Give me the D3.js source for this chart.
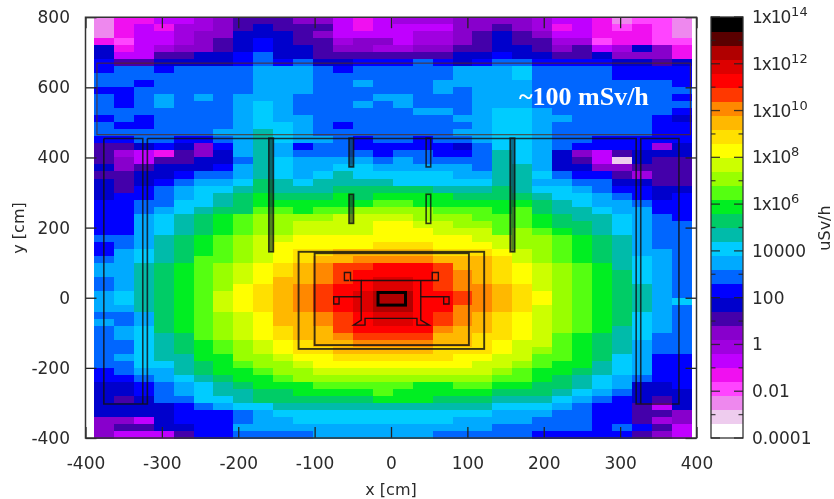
<!DOCTYPE html>
<meta charset="utf-8">
<style>
html, body { margin: 0; background: #fff; }
svg { display: block; filter: blur(0.45px); }
text { font-family: "DejaVu Sans", sans-serif; fill: #2a2a2a; }
.axis path { display: none; }
.axis line { stroke: #222; stroke-width: 1.3px; }
.axis text { font-size: 17px; fill: #2a2a2a; font-family: "DejaVu Sans", sans-serif; }
.geo { fill: none; stroke: #111; stroke-opacity: 0.82; }
</style>
<svg width="834" height="499"></svg>
<script src="https://cdnjs.cloudflare.com/ajax/libs/d3/7.8.5/d3.min.js"></script>
<script>
// colour bands of the dose scale, low to high (30 bands over 18 decades)
var palette = ["#ffffff","#eeccee","#ee88ee","#ff44ff","#f010f0","#c000ff","#a000e0","#8800cc","#4400aa","#0000cc",
  "#0000ff","#0066ff","#00aaff","#00ccff","#00bbaa","#00cc66","#00ee22","#55ff11","#99ff00","#ccff00",
  "#ffff00","#ffe000","#ffb800","#ff8800","#ff3800","#ff0000","#dd0000","#b00000","#5a0000","#000000"];

// dose map: 60 rows top to bottom, 30 columns left to right
var doseRows = [
[2,4,4,5,5,6,7,8,8,8,7,7,5,4,5,6,6,6,7,7,7,7,6,5,5,4,2,3,3,2],
[2,4,5,4,6,6,7,8,9,8,8,8,5,4,5,5,5,5,7,7,8,7,6,4,5,4,3,4,3,2],
[2,4,5,5,6,7,7,9,9,9,8,7,5,5,5,5,6,6,7,8,9,8,7,5,5,4,4,4,3,2],
[4,3,5,5,6,7,8,9,10,9,8,8,6,7,7,5,6,6,7,8,9,8,8,6,6,3,4,4,3,3],
[9,4,5,6,7,7,8,9,10,9,9,8,7,7,6,6,7,7,8,8,9,9,8,7,8,5,6,9,7,4],
[9,5,5,8,8,9,9,10,11,9,9,8,8,8,8,8,8,8,9,9,10,9,9,8,8,9,7,7,7,4],
[10,8,8,9,9,9,9,10,11,10,11,9,9,10,10,10,11,10,9,10,11,11,10,10,10,10,9,9,8,9],
[10,11,11,10,11,11,11,11,12,12,12,11,10,11,11,11,11,11,12,12,12,13,11,11,11,11,10,10,10,10],
[11,11,11,11,11,11,11,11,12,12,12,11,11,11,11,11,11,11,12,12,12,13,11,11,11,11,10,10,10,10],
[11,11,10,11,11,11,11,11,12,12,12,11,11,12,11,11,11,12,12,12,12,12,11,11,11,11,11,11,11,10],
[10,10,11,11,11,11,11,11,12,12,12,11,11,11,11,11,11,12,11,12,12,12,11,11,11,11,11,11,11,11],
[11,10,11,12,11,12,11,12,12,12,11,11,11,11,12,12,11,11,11,12,12,12,11,11,11,11,11,11,11,10],
[11,10,11,12,11,11,11,12,13,12,11,11,11,12,11,12,11,11,11,12,12,12,11,11,11,11,11,11,11,11],
[11,11,11,11,11,11,11,12,13,12,11,11,11,11,11,11,12,12,11,12,13,13,12,11,11,11,11,11,11,10],
[10,11,10,11,11,11,11,12,13,12,12,11,11,11,11,11,11,11,12,12,13,13,12,12,11,11,11,11,10,9],
[11,10,10,11,11,11,11,12,13,13,12,11,10,11,11,11,11,11,11,12,13,13,12,11,11,11,11,11,10,10],
[11,11,11,11,11,11,12,12,14,13,12,11,11,11,11,11,11,11,12,12,13,13,12,11,11,11,11,11,10,10],
[10,10,11,11,10,10,11,12,14,13,12,12,11,10,11,11,10,11,11,12,13,13,12,11,11,10,10,10,10,10],
[8,8,9,10,9,7,10,12,14,12,10,11,11,10,10,10,10,10,9,11,13,13,12,11,10,10,10,10,6,9],
[8,6,5,4,8,7,9,12,14,12,11,11,11,11,10,11,11,10,10,11,14,13,12,9,7,5,8,9,9,9],
[8,7,5,8,8,9,9,11,14,13,12,12,12,12,11,12,11,11,11,11,14,13,12,9,8,5,1,9,8,8],
[9,7,8,9,9,9,10,12,14,13,12,12,13,13,12,12,12,12,12,11,14,14,12,9,9,7,7,8,8,8],
[8,8,9,9,10,11,11,12,14,13,12,13,14,13,13,13,13,13,12,12,14,14,13,11,10,10,8,6,8,8],
[9,8,9,10,11,12,12,13,15,14,13,14,14,14,14,13,13,13,13,13,14,14,12,12,11,11,9,9,8,8],
[9,8,10,11,12,13,13,14,15,14,14,14,15,15,15,15,15,14,14,14,15,14,13,13,12,11,10,10,9,9],
[9,10,10,11,12,13,14,15,16,15,15,15,16,15,16,16,16,16,15,15,15,15,14,13,13,12,11,10,9,10],
[10,10,11,11,13,13,14,15,16,16,16,16,16,16,17,17,16,16,16,16,16,16,15,14,13,12,12,11,10,10],
[10,10,11,12,13,14,15,15,17,17,16,17,17,18,18,18,18,17,17,17,16,17,15,14,14,13,12,12,10,10],
[10,10,12,13,14,15,16,17,18,18,18,18,19,19,19,19,18,18,18,17,17,17,16,15,14,14,13,12,11,10],
[10,10,12,13,14,15,16,17,18,18,19,19,19,19,20,20,19,19,18,18,17,17,16,15,15,14,13,12,11,11],
[10,10,12,13,14,15,16,17,18,18,19,19,19,19,20,20,20,19,19,19,17,18,17,16,15,14,13,12,11,11],
[11,11,12,14,15,16,17,18,19,19,20,20,20,20,20,20,20,20,20,19,19,18,18,17,16,15,14,12,11,11],
[10,11,12,14,15,16,17,18,19,20,20,20,20,20,21,21,21,20,20,20,19,18,18,17,16,15,14,12,11,11],
[10,12,13,14,15,16,17,18,19,20,21,21,22,22,22,22,22,21,21,21,20,19,18,17,16,15,14,12,12,11],
[11,12,13,14,15,17,17,18,19,20,21,22,22,23,23,23,23,22,22,22,21,19,18,17,16,15,14,13,12,11],
[12,12,14,15,16,17,18,19,20,21,22,23,24,24,25,25,25,24,22,22,21,20,19,18,17,16,14,13,12,11],
[12,12,14,15,16,17,18,19,20,21,22,23,24,25,25,25,25,24,23,22,21,20,19,18,17,16,15,13,12,11],
[11,12,14,15,16,17,18,19,20,22,22,23,24,25,26,26,25,24,23,22,21,20,19,18,17,16,15,13,12,11],
[11,12,14,15,16,17,18,20,21,22,23,24,25,25,26,26,25,24,23,23,22,21,19,18,17,16,15,14,12,11],
[12,13,14,15,16,17,19,20,21,22,23,24,25,26,27,27,25,25,24,23,22,21,20,18,17,16,15,14,12,11],
[12,13,14,15,16,17,19,20,21,22,23,24,25,26,27,27,25,25,24,23,22,21,20,18,17,16,15,14,12,13],
[12,12,14,15,16,17,19,20,21,22,23,24,25,26,27,27,25,25,23,23,22,21,19,18,17,16,15,14,12,11],
[11,11,12,15,16,17,18,19,20,22,22,23,24,25,26,26,25,24,23,22,21,20,19,18,17,16,15,13,12,11],
[12,11,12,15,16,17,18,19,20,22,22,23,24,25,26,26,25,24,23,22,21,20,19,18,17,16,15,13,12,11],
[11,12,13,15,16,17,18,19,20,21,22,22,24,25,25,25,25,23,22,22,21,20,19,18,17,16,14,13,12,11],
[11,12,13,14,15,17,18,19,20,21,22,22,23,24,24,24,24,22,22,21,21,20,19,17,16,15,14,13,11,11],
[11,11,13,14,15,16,17,18,19,20,21,22,22,23,23,23,23,22,22,21,20,19,19,17,16,15,14,12,11,11],
[11,11,13,14,15,16,17,18,19,20,21,21,22,22,22,22,22,21,21,21,20,19,18,17,16,15,14,12,11,11],
[11,12,13,14,14,16,16,18,18,19,20,20,21,21,21,21,21,21,20,20,19,19,17,17,16,15,13,12,10,10],
[11,11,13,13,14,15,16,17,18,18,19,20,20,20,20,20,20,20,20,19,19,18,17,16,16,14,13,12,10,10],
[10,11,12,12,14,15,16,16,17,18,18,19,19,19,19,19,19,19,19,19,18,17,16,16,15,14,13,12,10,10],
[10,10,11,12,13,14,15,16,16,17,18,18,18,18,18,18,18,18,18,18,17,17,16,15,14,13,12,11,10,10],
[9,9,10,11,12,13,14,15,16,16,16,17,17,17,17,17,16,16,17,17,16,16,15,15,14,13,12,9,9,10],
[9,9,10,11,12,13,14,14,15,15,16,16,16,16,17,16,16,16,16,16,15,15,15,14,13,12,11,9,9,9],
[9,8,9,11,11,13,13,14,15,15,15,15,15,15,16,16,16,15,15,15,14,14,14,13,12,11,10,9,8,9],
[9,9,9,9,10,11,12,13,13,14,14,14,14,14,14,14,14,14,14,14,13,13,13,12,11,10,10,8,5,9],
[9,9,9,9,10,10,10,11,12,13,13,13,13,13,13,13,13,13,13,13,12,12,12,11,11,10,10,8,8,7],
[7,7,5,9,10,10,10,11,12,12,13,13,13,13,13,13,13,13,12,12,12,12,11,11,11,10,10,8,6,7],
[7,8,8,9,9,10,10,12,12,12,12,12,12,12,12,12,12,12,12,12,11,11,11,11,11,10,11,10,8,5],
[7,5,5,5,8,10,10,11,11,11,11,12,12,12,12,12,12,11,11,11,11,11,10,10,10,10,10,8,7,5]
];

var xTicks = [-400,-300,-200,-100,0,100,200,300,400],
    yTicks = [-400,-200,0,200,400,600,800];

// left edge and width of the map cells, in cm
var gridLeft = -389, gridStep = 26.09, gridTop = 800, gridRowStep = 20;

// colour bar ticks, log10 of the dose
var cbMajor = [14,12,10,8,6,4,2,0,-2,-4],
    cbMinor = [13,11,9,7,5,3,1,-1,-3],
    cbLabels = [["1x10","14"],["1x10","12"],["1x10","10"],["1x10","8"],["1x10","6"],["10000"],["100"],["1"],["0.01"],["0.0001"]];

// detector and hall outlines in cm: [x0, y0, x1, y1]
var hallBox = [-385, 465, 392, 669];
var halls = [[-121, -146, 122, 131], [-100, -135, 102, 127]];
var walls = [
  [[-376,454],[-376,-303],[-319,-303],[-319,454]],
  [[-325,-303],[-325,454],[-376,454]],
  [[-319,454],[321,454],[321,-303],[377,-303],[377,454],[327,454],[327,-303]]
];
var thickBars = [[-160,131,-154,455],[156,131,162,455],[-55,373,-49,455],[-55,212,-49,295],[46,373,52,455],[46,212,52,295]];
var coreBox = [-17, -21, 19, 15];
var body = [
  [[-55,49],[-61,49],[-61,72],[-53,72],[-53,49],[-39,49],[-39,3],[-73,3],[-75,3],[-75,-18],[-68,-18],[-68,3]],
  [[-39,3],[-39,-64],[-49,-78],[-34,-78],[-34,-59],[34,-59],[34,-78],[50,-78],[39,-64],[39,3],[76,3],[76,-18],[69,-18],[69,3]],
  [[39,3],[39,49],[54,49],[54,72],[62,72],[62,49],[39,49],[-39,49]]
];

var svg = d3.select("svg"),
    x = d3.scaleLinear().domain([-400,400]).range([85.5,696.5]),
    y = d3.scaleLinear().domain([-400,800]).range([438,17.2]),
    cb = d3.scaleLinear().domain([-4,14]).range([438,17]),
    color = d3.scaleQuantize().domain([0,30]).range(palette);

// heat map
var cells = [];
doseRows.forEach(function(row, j) {
  row.forEach(function(v, i) { cells.push({i: i, j: j, v: v}); });
});
svg.append("g").selectAll("rect").data(cells).enter().append("rect")
    .attr("x", function(d) { return x(gridLeft + d.i * gridStep); })
    .attr("y", function(d) { return y(gridTop - d.j * gridRowStep); })
    .attr("width", x(gridStep) - x(0) + 0.5)
    .attr("height", y(0) - y(gridRowStep) + 0.5)
    .attr("fill", function(d) { return color(d.v + 0.5); })
    .attr("shape-rendering", "crispEdges");

// outlines
var geo = svg.append("g").attr("class", "geo");
var line = d3.line().x(function(d) { return x(d[0]); }).y(function(d) { return y(d[1]); });
function box(b, w) {
  return geo.append("rect")
      .attr("x", x(b[0])).attr("y", y(b[3]))
      .attr("width", x(b[2]) - x(b[0])).attr("height", y(b[1]) - y(b[3]))
      .attr("stroke-width", w);
}
box(hallBox, 1.1).style("stroke", "#5a2a10");
halls.forEach(function(b) { box(b, 1.9); });
walls.forEach(function(p) { geo.append("path").attr("d", line(p)).attr("stroke-width", 1.6); });
thickBars.forEach(function(b, i) { box(b, 1.6).style("fill", i < 4 ? "#123" : "none").style("fill-opacity", 0.55); });
body.forEach(function(p) { geo.append("path").attr("d", line(p)).attr("stroke-width", 1.4).style("stroke-opacity", 0.9); });
box(coreBox, 3).style("stroke-opacity", 1).style("stroke", "#000");

svg.append("text")
    .attr("x", 519).attr("y", 105)
    .style("font-family", "'Liberation Serif', serif")
    .style("font-weight", "bold").style("font-size", "26px").style("fill", "#fff")
    .text("~100 mSv/h");

// axes, gnuplot style: ticks point inward on all four sides
svg.append("g").attr("class", "axis").attr("transform", "translate(0,438)")
    .call(d3.axisBottom(x).tickValues(xTicks).tickFormat(String).tickSize(-11).tickSizeOuter(0).tickPadding(19));
svg.append("g").attr("class", "axis").attr("transform", "translate(85.5,0)")
    .call(d3.axisLeft(y).tickValues(yTicks).tickFormat(String).tickSize(-11).tickSizeOuter(0).tickPadding(15.5));
svg.append("g").attr("class", "axis").attr("transform", "translate(0,17.2)")
    .call(d3.axisTop(x).tickValues(xTicks).tickFormat("").tickSize(-11).tickSizeOuter(0));
svg.append("g").attr("class", "axis").attr("transform", "translate(696.5,0)")
    .call(d3.axisRight(y).tickValues(yTicks).tickFormat("").tickSize(-11).tickSizeOuter(0));
svg.append("path")
    .attr("d", "M85.5,17.2H696.5V438H85.5Z")
    .attr("fill", "none").attr("stroke", "#333").attr("stroke-width", 1.5);

svg.append("text").attr("x", 391).attr("y", 495).attr("text-anchor", "middle")
    .style("font-size", "16px").text("x [cm]");
svg.append("text").attr("transform", "translate(24,228) rotate(-90)").attr("text-anchor", "middle")
    .style("font-size", "16px").text("y [cm]");

// colour bar
var cbX = 711, cbW = 32, cbStep = 18 / palette.length;
svg.append("g").selectAll("rect").data(palette).enter().append("rect")
    .attr("x", cbX).attr("width", cbW)
    .attr("y", function(d, i) { return cb(-4 + (i + 1) * cbStep); })
    .attr("height", cb(0) - cb(cbStep) + 0.5)
    .attr("fill", function(d) { return d; })
    .attr("shape-rendering", "crispEdges");
svg.append("rect").attr("x", cbX).attr("y", cb(14)).attr("width", cbW).attr("height", cb(-4) - cb(14))
    .attr("fill", "none").attr("stroke", "#333").attr("stroke-width", 1.3);

function cbTick(v, len, o) {
  [[cbX, cbX + len], [cbX + cbW - len, cbX + cbW]].forEach(function(s) {
    svg.append("line").attr("x1", s[0]).attr("x2", s[1]).attr("y1", cb(v)).attr("y2", cb(v))
        .attr("stroke", "#222").attr("stroke-opacity", o).attr("stroke-width", 1.3);
  });
}
cbMajor.forEach(function(v) { cbTick(v, 9, 0.85); });
cbMinor.forEach(function(v) { cbTick(v, 4.5, 0.8); });

cbMajor.forEach(function(v, i) {
  var t = svg.append("text").attr("x", 752).attr("y", cb(v) + 6).style("font-size", "17px");
  var first = t.append("tspan").text(cbLabels[i][0]);
  if (cbLabels[i][1]) {
    first.style("letter-spacing", "-1.1px");
    t.append("tspan").attr("dx", 1).attr("dy", -7).style("font-size", "13px").text(cbLabels[i][1]);
  }
});
svg.append("text").attr("transform", "translate(830,228) rotate(-90)").attr("text-anchor", "middle")
    .style("font-size", "16px").text("uSv/h");
</script>
